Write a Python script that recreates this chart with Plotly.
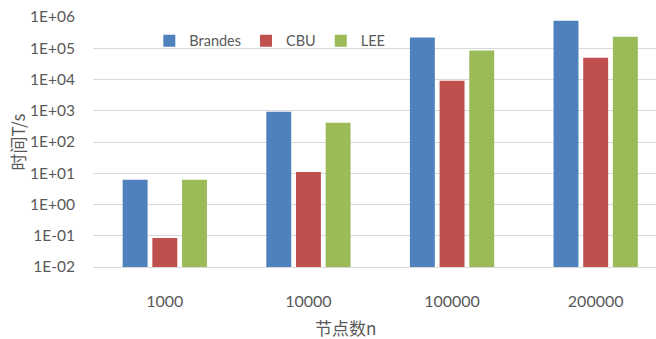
import plotly.graph_objects as go

categories = ["1000", "10000", "100000", "200000"]
brandes = [6.2, 930, 220000, 760000]
cbu = [0.085, 11, 9200, 50000]
lee = [6.2, 410, 84000, 235000]
series_names = ["Brandes", "CBU", "LEE"]
colors = ["#4F81BD", "#C0504D", "#9BBB59"]
tick_vals = [1e-2, 1e-1, 1e0, 1e1, 1e2, 1e3, 1e4, 1e5, 1e6]
tick_text = ["1E-02", "1E-01", "1E+00", "1E+01", "1E+02", "1E+03", "1E+04", "1E+05", "1E+06"]

fig = go.Figure()
for name, vals, col in zip(series_names, [brandes, cbu, lee], colors):
    fig.add_trace(go.Bar(x=categories, y=vals, name=name, marker=dict(color=col, line=dict(width=0))))

font_latin = "Lato, 'Noto Sans CJK SC', sans-serif"
cjk = "'Noto Sans CJK SC', sans-serif"
fig.update_layout(
    width=656, height=339,
    margin=dict(l=93, r=0, t=17, b=72),
    paper_bgcolor="white", plot_bgcolor="white",
    barmode="group", bargap=0.38, bargroupgap=0.16,
    font=dict(family=font_latin, color="#595959", size=15),
    legend=dict(orientation="h", x=0.10, y=0.905, xanchor="left", yanchor="middle",
                font=dict(size=14.5, color="#595959"), bgcolor="rgba(0,0,0,0)",
                itemwidth=30, tracegroupgap=0),
    xaxis=dict(type="category", range=[-0.5, 3.42], showgrid=False,
               showline=True, linecolor="#d9d9d9", linewidth=1,
               ticks="", ticklabelstandoff=20, tickfont=dict(size=16, color="#595959")),
    yaxis=dict(type="log", range=[-2, 6], tickvals=tick_vals, ticktext=tick_text,
               showgrid=True, gridcolor="#d9d9d9", gridwidth=1, zeroline=False,
               showline=False, ticks="", ticklabelstandoff=17,
               tickfont=dict(size=15.5, color="#595959"),
               title=dict(text="时间T/s", font=dict(family=cjk, size=17, color="#595959"), standoff=0)),
    annotations=[dict(text="节点数n", xref="paper", yref="paper", x=(345 - 93) / 563, y=-0.24,
                      xanchor="center", yanchor="middle", showarrow=False,
                      font=dict(family=cjk, size=17, color="#595959"))],
)

fig.write_html("out.html")
